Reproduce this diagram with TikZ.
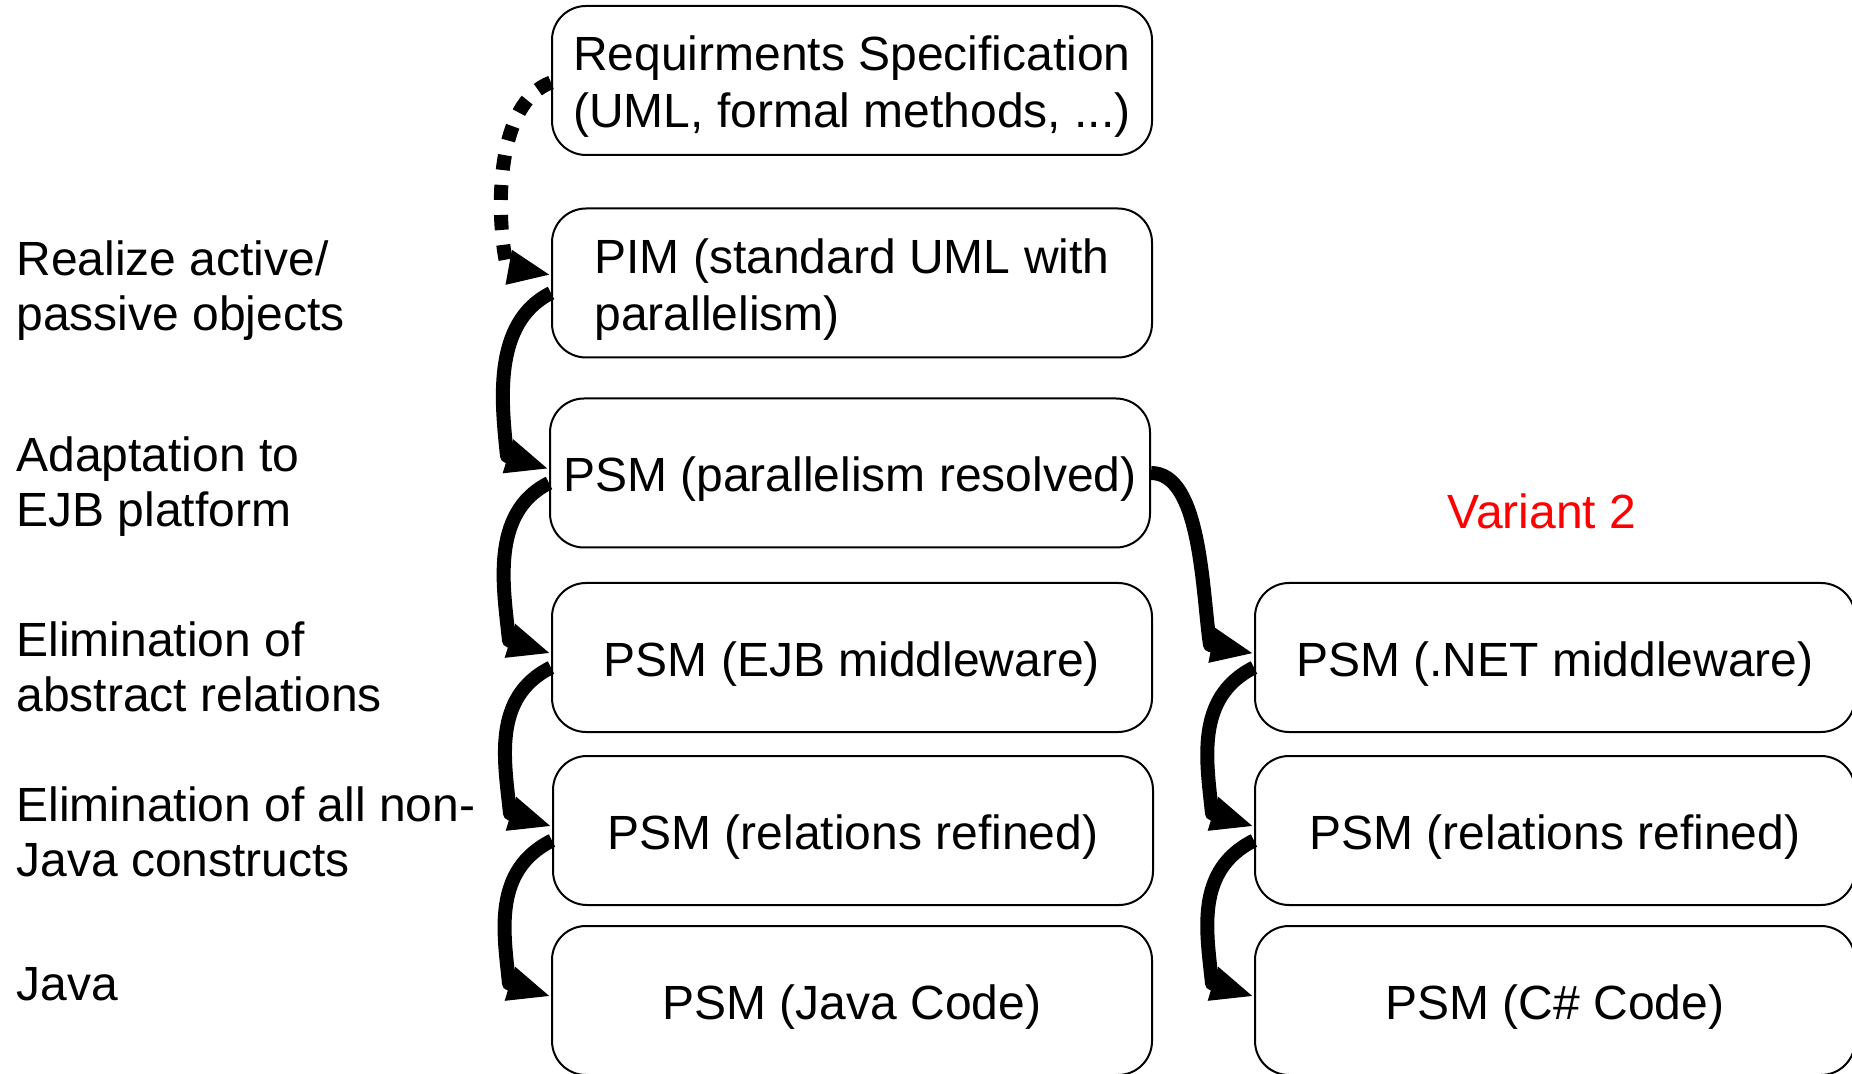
\documentclass[tikz,border=0pt]{standalone}
\usepackage{fontspec}
\setmainfont{Liberation Sans}
\usetikzlibrary{arrows.meta,calc}
\begin{document}
\begin{tikzpicture}[x=0.5pt,y=-0.5pt,
  box/.style={draw, line width=1pt, rounded corners=17pt, minimum width=300pt,
    minimum height=74.5pt, inner sep=0pt},
  boxtxt/.style={inner sep=0pt, align=left, font=\fontsize{24}{28.5}\selectfont},
  lbl/.style={anchor=west, align=left, inner sep=0pt,
    font=\fontsize{24}{27.5}\selectfont},
  flow/.style={line width=7pt, line join=round, -{Triangle[length=21.5pt,width=16pt]}},
  dots/.style={flow, dash pattern=on 7.5pt off 7.5pt}
]
\useasboundingbox (0,0) rectangle (1852,1074);

% boxes
\node[box] (req)  at (852,80.5)   {};
\node[box] (pim)  at (852,283)    {};
\node[box] (res)  at (850,473)    {};
\node[box] (ejb)  at (852,657.5)  {};
\node[box] (rel)  at (853,830.5)  {};
\node[box] (java) at (852,1000.5) {};
\node[box] (net)  at (1555,657.5) {};
\node[box] (rel2) at (1555,830.5) {};
\node[box] (cs)   at (1555,1000.5){};

% box texts
\node[boxtxt] (reqt)  at ([yshift=-3.2pt]req.center)  {Requirments Specification\\(UML, formal methods, ...)};
\node[boxtxt] (pimt)  at ([yshift=-3.2pt]pim.center)  {PIM (standard UML with\\parallelism)};
\node[boxtxt] (rest)  at ([yshift=-3.2pt]res.center)  {PSM (parallelism resolved)};
\node[boxtxt] (ejbt)  at ([yshift=-3.2pt]ejb.center)  {PSM (EJB middleware)};
\node[boxtxt] (relt)  at ([yshift=-3.2pt]rel.center)  {PSM (relations refined)};
\node[boxtxt] (javat) at ([yshift=-3.2pt]java.center) {PSM (Java Code)};
\node[boxtxt] (nett)  at ([yshift=-3.2pt]net.center)  {PSM (.NET middleware)};
\node[boxtxt] (rel2t) at ([yshift=-3.2pt]rel2.center) {PSM (relations refined)};
\node[boxtxt] (cst)   at ([yshift=-3.2pt]cs.center)   {PSM (C\# Code)};

% labels
\node[lbl] (l1) at (16,291)   {Realize active/\\passive objects};
\node[lbl] (l2) at (16,487)   {Adaptation to\\EJB platform};
\node[lbl] (l3) at (16,667)   {Elimination of\\abstract relations};
\node[lbl] (l4) at (16,831.5) {Elimination of all non-\\Java constructs};
\node[lbl] (l5) at (16,984)   {Java};
\node[text=red, inner sep=0pt, font=\fontsize{24}{28}\selectfont] (var) at (1542,511) {Variant 2};

% connectors
\draw[dots] ($(req.west)+(0,2)$) .. controls +(-55,20) and +(-12,-55) .. ($(pim.west)+(-44,-16)$) -- ($(pim.west)+(0,-8)$);
\foreach \a/\b in {pim/res, res/ejb, ejb/rel, rel/java, net/rel2, rel2/cs}{
  \draw[flow] ($(\a.west)+(0,10)$) .. controls +(-60,30) and +(-5,-50) .. ($(\b.west)+(-42,-17)$) -- ($(\b.west)+(0,-4)$);
}
\draw[flow] (res.east) .. controls +(50,0) and +(-8,-55) .. ($(net.west)+(-44,-12.5)$) -- ($(net.west)+(0,-4)$);
\end{tikzpicture}
\end{document}
